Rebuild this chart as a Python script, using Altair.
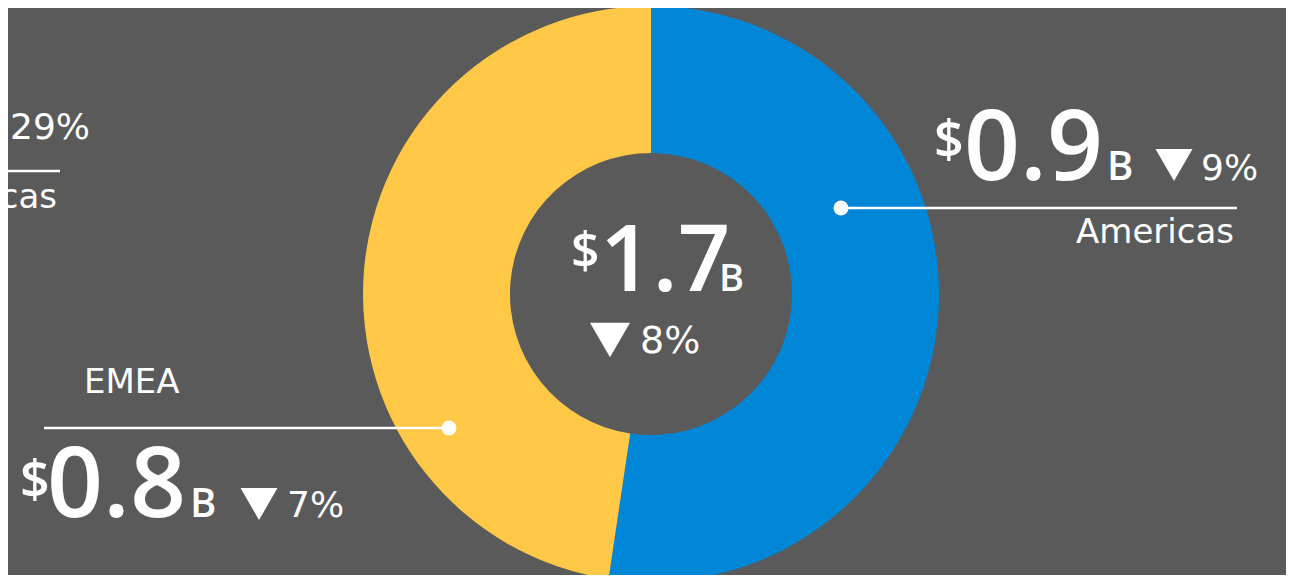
import altair as alt
import pandas as pd

# ---- data ----
regions = ["Americas", "EMEA"]
values = [0.89, 0.81]
value_labels = ["0.9", "0.8"]
change_labels = ["9%", "7%"]
total_label = "1.7"
total_change = "8%"
# partially visible neighbouring panel (cut off at the left edge)
prev_change = "29%"
prev_region = "Americas"

colors = ["#0086D6", "#FFC846"]
BG = "#5a5a5a"
BIG = "Open Sans"
SMALL = "DejaVu Sans"
OFF = 8  # page margin

df = pd.DataFrame({"region": regions, "value": values, "idx": list(range(len(regions)))})

donut = alt.Chart(df).mark_arc(innerRadius=141, outerRadius=288, strokeWidth=0).encode(
    theta=alt.Theta("value:Q", stack=True),
    color=alt.Color("region:N", scale=alt.Scale(domain=regions, range=colors), legend=None),
    order=alt.Order("idx:Q"),
    x=alt.value(651 - OFF),
    y=alt.value(294 - OFF),
)


def txt(s, x, y, size, weight="normal", align="left", font=SMALL):
    return alt.Chart(pd.DataFrame({"t": [s]})).mark_text(
        font=font, fontSize=size, fontWeight=weight, color="white",
        align=align, baseline="alphabetic",
    ).encode(text="t:N", x=alt.value(x - OFF), y=alt.value(y - OFF))


def tri(x, y, w):
    return alt.Chart(pd.DataFrame({"t": [0]})).mark_point(
        shape="triangle-down", filled=True, size=w * w, color="white", opacity=1, strokeWidth=0
    ).encode(x=alt.value(x - OFF), y=alt.value(y - OFF))


def hline(x1, x2, y):
    return alt.Chart(pd.DataFrame({"t": [0]})).mark_rule(color="white", strokeWidth=2.5).encode(
        x=alt.value(x1 - OFF), x2=alt.value(x2 - OFF), y=alt.value(y - OFF)
    )


def dot(x, y, d):
    return alt.Chart(pd.DataFrame({"t": [0]})).mark_point(
        shape="circle", filled=True, size=d * d, color="white", opacity=1, strokeWidth=0
    ).encode(x=alt.value(x - OFF), y=alt.value(y - OFF))


layers = [donut]

# centre
layers += [
    txt("$", 571, 268, 50, 600, font=BIG),
    txt(total_label, 600, 291, 92, 600, font=BIG),
    txt("B", 719, 291, 38, 600, font=BIG),
    tri(610, 340, 40),
    txt(total_change, 640, 353, 38),
]

# Americas (right)
layers += [
    txt("$", 934, 158, 52, 600, font=BIG),
    txt(value_labels[0], 964, 180, 98, 600, font=BIG),
    txt("B", 1107, 180, 40, 600, font=BIG),
    tri(1174, 165, 37),
    txt(change_labels[0], 1201, 180, 36),
    hline(841, 1237, 208),
    dot(841, 208, 15),
    txt(regions[0], 1234, 243, 34, align="right"),
]

# EMEA (left)
layers += [
    txt(regions[1], 84, 393, 34),
    hline(44, 449, 428),
    dot(449, 428, 15),
    txt("$", 20, 498, 52, 600, font=BIG),
    txt(value_labels[1], 47, 517, 98, 600, font=BIG),
    txt("B", 190, 517, 40, 600, font=BIG),
    tri(259, 504, 37),
    txt(change_labels[1], 287, 517, 36),
]

# cut-off neighbour panel at the far left
layers += [
    tri(-16, 126, 37),
    txt(prev_change, 10, 139, 36),
    hline(-20, 60, 171),
    txt(prev_region, 57, 208, 34, align="right"),
]

chart = alt.layer(*layers).properties(
    width=1278, height=567, padding=0, background=BG,
    autosize=alt.AutoSizeParams(type="none"),
).configure_view(stroke=None)

chart.save("out.html", embed_options={"renderer": "svg", "actions": False})
